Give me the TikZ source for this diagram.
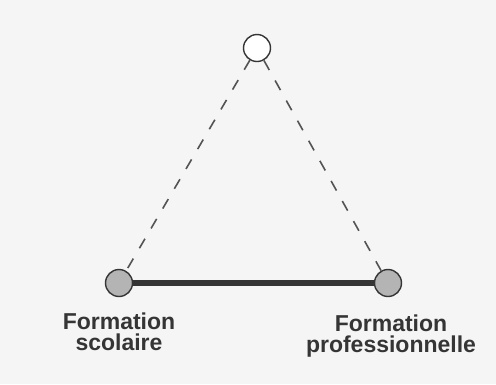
\documentclass[tikz,border=0pt]{standalone}
\usepackage{fontspec}
\setmainfont{Liberation Sans}
\usepackage{xcolor}
\usetikzlibrary{positioning}

\definecolor{inkgray}{HTML}{353535}
\definecolor{dotgray}{HTML}{B4B4B4}
\definecolor{papergray}{HTML}{F5F5F5}

\begin{document}
\begin{tikzpicture}[
    x=1pt, y=-1pt,
    pole/.style={circle, draw=inkgray, line width=1.4pt, fill=dotgray, minimum size=27pt, inner sep=0pt},
    pole_open/.style={pole, fill=white},
    label_node/.style={text=inkgray, align=center, font=\fontsize{23}{21.5}\selectfont\bfseries, inner sep=0pt},
    bond/.style={line width=6pt, color=inkgray},
    link/.style={dash pattern=on 11pt off 12pt, line width=1.6pt, color=inkgray!85}
]
    \fill[papergray] (0,0) rectangle (496,384);
    \useasboundingbox (0,0) rectangle (496,384);

    % Nodes
    \node[pole_open] (pro) at (257,48) {};
    \node[pole] (scol) at (119,283) {};
    \node[pole] (metier) at (388,283) {};

    \node[label_node, below=15pt of scol] (scol_txt) {Formation\\scolaire};
    \node[label_node, below=17pt of metier, xshift=3pt] (metier_txt) {Formation\\professionnelle};

    % Links
    \draw[bond] (scol) -- (metier);
    \draw[link] (pro) -- (scol);
    \draw[link] (pro) -- (metier);
\end{tikzpicture}
\end{document}
